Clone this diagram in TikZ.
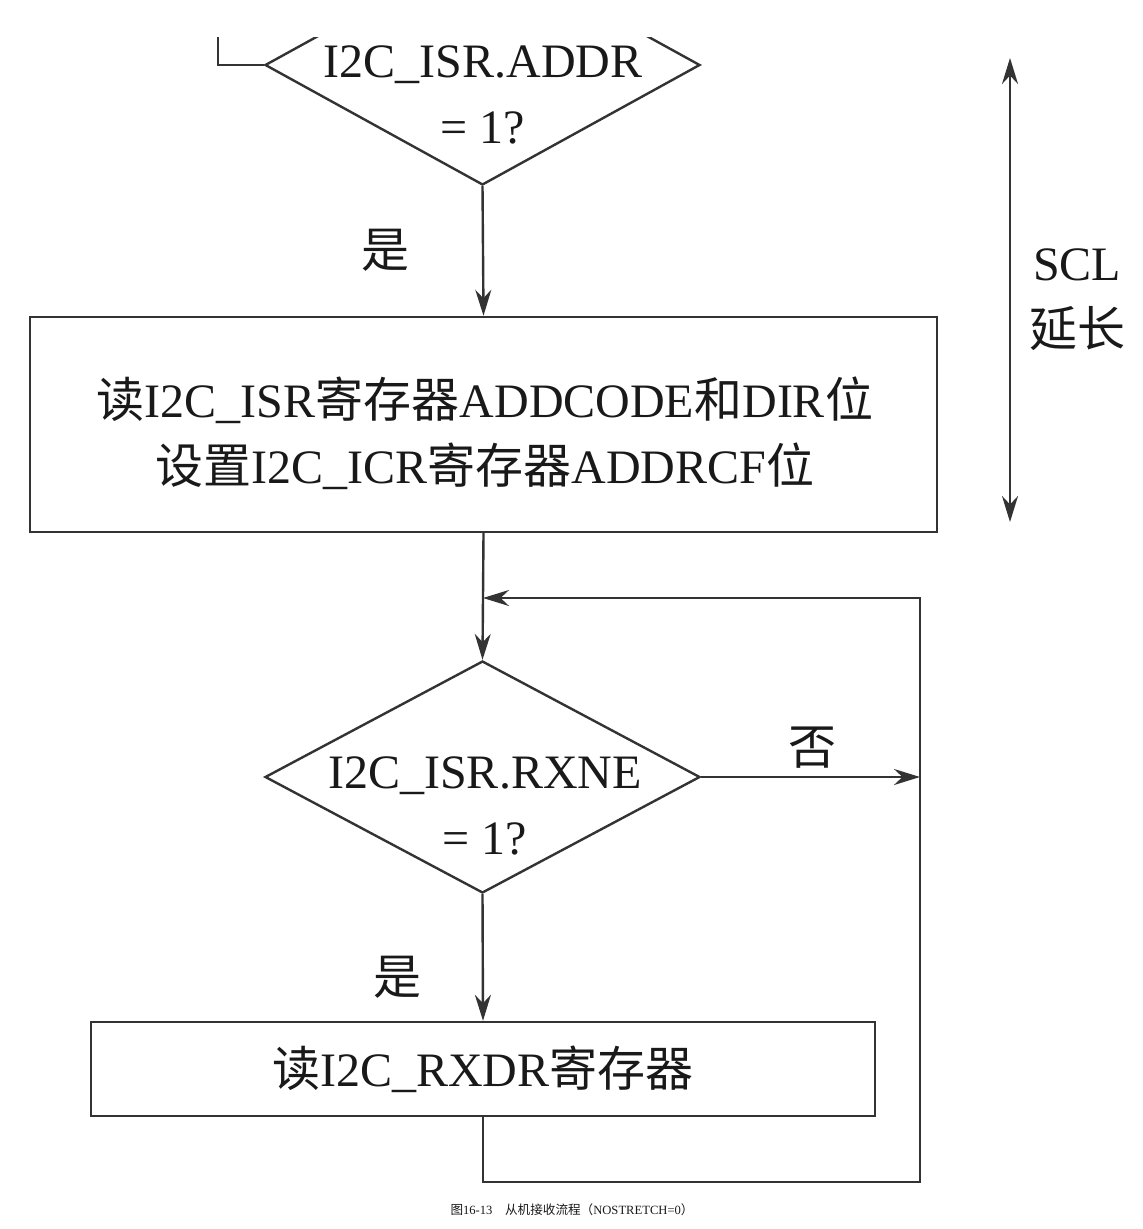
\documentclass[tikz,border=0pt]{standalone}
\usepackage{fontspec}
\setmainfont{Liberation Serif}
\newfontfamily\cjk{Noto Sans CJK SC}
\usetikzlibrary{arrows.meta, shapes.geometric}

\tikzset{
    flowline/.style={line width=1.2pt, draw=black!80},
    flowarrow/.style={flowline, -{Stealth[length=13pt, width=8pt]}},
    decision/.style={diamond, flowline, inner sep=0pt, minimum width=217.5pt, minimum height=118pt},
    processbox/.style={rectangle, flowline, inner sep=0pt},
    flowtext/.style={font=\fontsize{24}{33}\selectfont, align=center, text=black!90},
}

\begin{document}
\begin{tikzpicture}[x=0.5pt, y=-0.5pt]
    % рамка картинки
    \useasboundingbox (0,0) rectangle (1143,1229);

    % верх обрезан
    \begin{scope}
        \clip (0,38) rectangle (1143,1229);

        \node[decision, minimum height=120pt] (addr) at (482.5,65) {};
        \coordinate (in) at (218,30);
        \draw[flowline] (in) |- (addr.west);
        \node[flowtext] (addrtxt) at (483,95) {I2C\_ISR.ADDR\\= 1?};
    \end{scope}

    % блоки
    \node[processbox, minimum width=453.5pt, minimum height=107.5pt] (readisr) at (483.5,424.5) {};
    \node[flowtext] (readisrtxt) at (485,433)
        {{\cjk 读}I2C\_ISR{\cjk 寄存器}ADDCODE{\cjk 和}DIR{\cjk 位}\\{\cjk 设置}I2C\_ICR{\cjk 寄存器}ADDRCF{\cjk 位}};
    \node[decision, minimum height=116pt] (rxne) at (482.5,777) {};
    \node[flowtext] (rxnetxt) at (485,806) {I2C\_ISR.RXNE\\= 1?};
    \node[processbox, flowtext, minimum width=392pt, minimum height=47pt] (readrx) at (483,1069)
        {{\cjk 读}I2C\_RXDR{\cjk 寄存器}};

    % точки петли
    \coordinate (loopbr) at (920,1182);
    \coordinate (looptr) at (920,598);
    \coordinate (nohit) at (rxne.east -| looptr);
    \coordinate (merge) at (483,598);

    % стрелки
    \draw[flowarrow] (addr.south) -- (readisr.north);
    \draw[flowarrow] (readisr.south) -- (rxne.north);
    \draw[flowarrow] (rxne.south) -- (readrx.north);
    \draw[flowarrow] (rxne.east) -- (nohit);
    \draw[flowarrow] (readrx.south) |- (loopbr) -- (looptr) -- (merge);

    % подписи
    \node[flowtext] (yes1) at (385,250) {\cjk 是};
    \node[flowtext] (yes2) at (397,977) {\cjk 是};
    \node[flowtext] (no) at (812,748) {\cjk 否};

    % растяжение SCL
    \coordinate (scltop) at (1010,58);
    \coordinate (sclbot) at (1010,522);
    \draw[flowline, {Stealth[length=13pt, width=8pt]}-{Stealth[length=13pt, width=8pt]}] (scltop) -- (sclbot);
    \node[flowtext] (scl) at (1077,300) {SCL\\{\cjk 延长}};

    % подпись рисунка
    \node[font=\fontsize{6.3}{7}\selectfont, text=black!90] (caption) at (572,1210)
        {{\cjk 图}16-13\quad{\cjk 从机接收流程（}NOSTRETCH=0{\cjk ）}};
\end{tikzpicture}
\end{document}
